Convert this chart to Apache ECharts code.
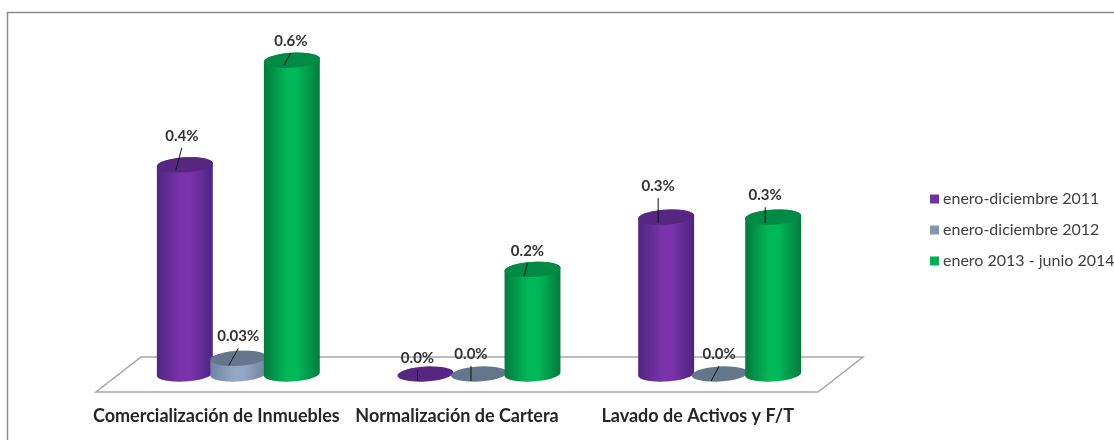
<!DOCTYPE html>
<html>
<head>
<meta charset="utf-8">
<style>
  html, body { margin: 0; padding: 0; background: #fff; }
  #main { width: 1114px; height: 440px; }
</style>
<script src="https://cdn.jsdelivr.net/npm/echarts@6/dist/echarts.min.js"></script>
</head>
<body>
<div id="main"></div>
<script>
const categories = ['Comercialización de Inmuebles', 'Normalización de Cartera', 'Lavado de Activos y F/T'];
const seriesNames = ['enero-diciembre 2011', 'enero-diciembre 2012', 'enero 2013 - junio 2014'];
const values2011 = [0.4, 0, 0.3];
const values2012 = [0.03, 0, 0];
const values2013 = [0.6, 0.2, 0.3];

// etiquetas tal como salen en el grafico
const labels2011 = ['0.4%', '0.0%', '0.3%'];
const labels2012 = ['0.03%', '0.0%', '0.0%'];
const labels2013 = ['0.6%', '0.2%', '0.3%'];

// colores: [borde, centro, tapa]
const colors = [
  ['#4f2480', '#7a33ab', '#562680'],
  ['#6f82a0', '#94a8c6', '#64768c'],
  ['#047a3c', '#00b857', '#008a43']
];
const legendColors = ['#7030a0', '#8497b0', '#00b050'];

// desplazamiento de la linea guia respecto al centro de la tapa: [x0, y0, x1, y1]
const leaderLines = [
  [[-9, 5, -3, -17], [-8, 7, -8, -4], [-8, 6, -8, -19]],
  [[-9.5, 7, 0, -10], [-8, 7, -8, -8], [-8.5, 7, -0.5, -8]],
  [[-8, 5, -1, -7], [-8.5, 7, -5, -6], [-8, 6, -8, -10]]
];

const BAR_W = 56;
const BAR_STEP = 53.5;
const RY = 7.5;
const TILT = -0.06;

function ellipsePts(cx, cy, from, to) {
  const pts = [];
  const n = 36;
  for (let i = 0; i <= n; i++) {
    const a = from + (to - from) * i / n;
    const ex = BAR_W / 2 * Math.cos(a);
    const ey = RY * Math.sin(a);
    pts.push([cx + ex * Math.cos(TILT) - ey * Math.sin(TILT), cy + ex * Math.sin(TILT) + ey * Math.cos(TILT)]);
  }
  return pts;
}

function cylinder(si, labels) {
  return function (params, api) {
    const idx = api.value(0);
    const v = api.value(1);
    const base = api.coord([idx, 0]);
    const top = api.coord([idx, v]);
    const cx = base[0] + (si - 1) * BAR_STEP;
    const c = colors[si];
    const kids = [];
    if (v > 0) {
      // cuerpo: arco inferior + arco de la tapa
      const lower = ellipsePts(cx, base[1], 0, Math.PI);
      const upper = ellipsePts(cx, top[1], Math.PI, 2 * Math.PI);
      kids.push({
        type: 'polygon',
        shape: { points: lower.concat(upper) },
        style: {
          fill: new echarts.graphic.LinearGradient(0, 0, 1, 0, [
            { offset: 0, color: c[0] },
            { offset: 0.42, color: c[1] },
            { offset: 0.6, color: c[1] },
            { offset: 1, color: c[0] }
          ])
        }
      });
    }
    kids.push({
      type: 'polygon',
      shape: { points: ellipsePts(cx, top[1], 0, 2 * Math.PI) },
      style: { fill: c[2] }
    });
    const l = leaderLines[si][idx];
    kids.push({
      type: 'line',
      shape: { x1: cx + l[0], y1: top[1] + l[1], x2: cx + l[2], y2: top[1] + l[3] },
      style: { stroke: '#111', lineWidth: 1 }
    });
    kids.push({
      type: 'text',
      x: cx + l[2],
      y: top[1] + l[3] - 12,
      style: {
        text: labels[idx],
        font: 'bold 15px Lato',
        fill: '#333',
        align: 'center',
        verticalAlign: 'middle'
      }
    });
    return { type: 'group', children: kids };
  };
}

function floor(params, api) {
  const s = params.coordSys;
  const y0 = s.y + s.height;
  return {
    type: 'polygon',
    silent: true,
    shape: {
      points: [
        [s.x - 22, y0 + 18],
        [s.x + s.width - 22, y0 + 18],
        [s.x + s.width + 23, y0 - 17],
        [s.x + 23, y0 - 17]
      ]
    },
    style: { fill: '#fff', stroke: '#a6a6a6', lineWidth: 1.5 }
  };
}

function toRows(arr) {
  return arr.map((v, i) => [i, v]);
}

const myChart = echarts.init(document.getElementById('main'), null, { renderer: 'canvas' });
myChart.setOption({
  animation: false,
  backgroundColor: '#fff',
  graphic: [{
    type: 'rect',
    silent: true,
    shape: { x: 7.5, y: 12.5, width: 1200, height: 600 },
    style: { fill: 'none', stroke: '#8c8c8c', lineWidth: 1.5 }
  }],
  grid: { left: 118, right: 274, top: 8, height: 366 },
  legend: {
    orient: 'vertical',
    left: 925,
    top: 185,
    itemWidth: 9,
    itemHeight: 9,
    itemGap: 13,
    icon: 'rect',
    data: seriesNames,
    textStyle: { fontFamily: 'Lato', fontSize: 16, color: '#404040', lineHeight: 18, padding: [0, 0, 0, -1] }
  },
  xAxis: {
    type: 'category',
    data: categories,
    axisLine: { show: false },
    axisTick: { show: false },
    axisLabel: {
      margin: 33,
      interval: 0,
      fontFamily: 'Lato',
      fontWeight: 'bold',
      fontSize: 18,
      color: '#262626',
      padding: [0, 44, 0, 0]
    }
  },
  yAxis: { type: 'value', min: 0, max: 0.7, show: false },
  series: [
    { type: 'custom', silent: true, z: 1, renderItem: floor, data: [[0, 0]], encode: { x: 0, y: 1 } },
    { name: seriesNames[0], type: 'custom', z: 2, renderItem: cylinder(0, labels2011), itemStyle: { color: legendColors[0] }, data: toRows(values2011), encode: { x: 0, y: 1 } },
    { name: seriesNames[1], type: 'custom', z: 3, renderItem: cylinder(1, labels2012), itemStyle: { color: legendColors[1] }, data: toRows(values2012), encode: { x: 0, y: 1 } },
    { name: seriesNames[2], type: 'custom', z: 4, renderItem: cylinder(2, labels2013), itemStyle: { color: legendColors[2] }, data: toRows(values2013), encode: { x: 0, y: 1 } }
  ]
});
</script>
</body>
</html>
